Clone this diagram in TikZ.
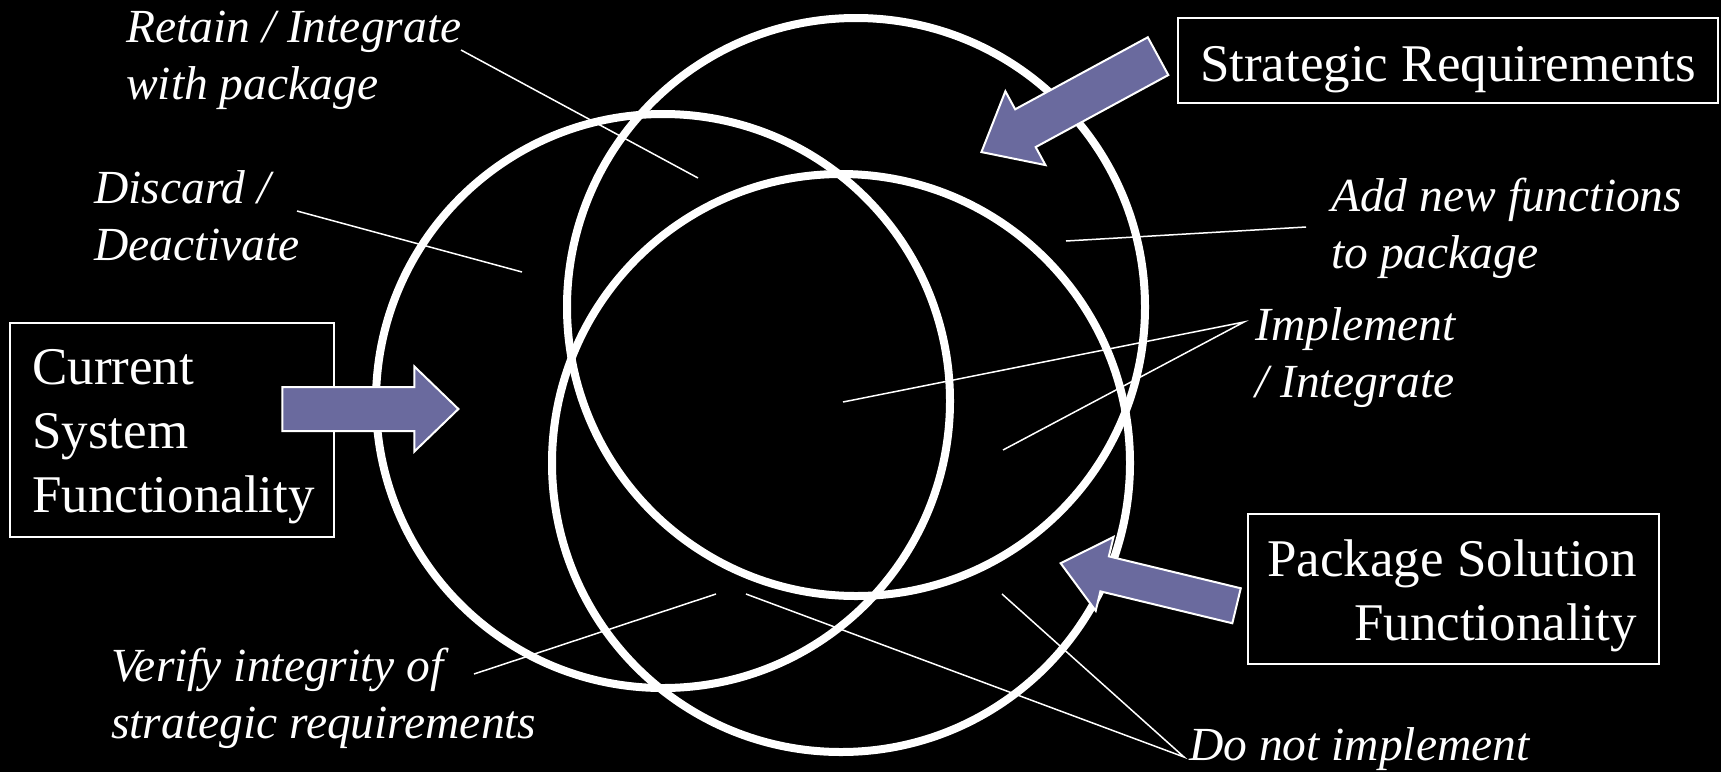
\documentclass[tikz,border=0pt]{standalone}
\usepackage{fontspec}
\setmainfont{Liberation Serif}
\usetikzlibrary{shapes.arrows}
\definecolor{arrowfill}{RGB}{106,106,158}

\begin{document}
\begin{tikzpicture}[x=1pt, y=-1pt,
  ring/.style={circle, draw=white, line width=8pt, inner sep=0pt},
  framebox/.style={draw=white, line width=2pt},
  boxtext/.style={font=\fontsize{53}{64}\selectfont, text=white, inner sep=0pt},
  tag/.style={font=\fontsize{47.5}{57}\selectfont\itshape, text=white, inner sep=0pt, align=left, anchor=base west},
  leader/.style={draw=white, line width=1.5pt},
  fatarrow/.style={single arrow, fill=arrowfill, draw=white, line width=2pt, inner sep=0pt}]
  % Hintergrund
  \fill[black] (0,0) rectangle (1721,772);
  \useasboundingbox (0,0) rectangle (1721,772);

  % drei Kreise
  \node[ring, minimum size=574pt] (cur)   at (663,401) {};
  \node[ring, minimum size=578pt] (strat) at (856,307) {};
  \node[ring, minimum size=578pt] (pkg)   at (841,463) {};

  % Beschriftungen (Anker = Grundlinie der letzten Zeile)
  \node[tag] (retain)  at (126,99)  {Retain / Integrate\\with package};
  \node[tag] (discard) at (94,260)  {Discard /\\Deactivate};
  \node[tag] (addnew)  at (1331,268) {Add new functions\\to package};
  \node[tag] (impl)    at (1255,397) {Implement\\/ Integrate};
  \node[tag] (verify)  at (111,738) {Verify integrity of\\strategic requirements};
  \node[tag] (donot)   at (1189,760) {Do not implement};

  % Endpunkte der Hinweislinien
  \coordinate (retainA) at (461,50);   \coordinate (retainB) at (698,178);
  \coordinate (discardA) at (297,211); \coordinate (discardB) at (522,272);
  \coordinate (addnewA) at (1306,227); \coordinate (addnewB) at (1066,241);
  \coordinate (implA) at (1244,322);
  \coordinate (implB) at (843,402);    \coordinate (implC) at (1003,450);
  \coordinate (verifyA) at (474,674);  \coordinate (verifyB) at (716,594);
  \coordinate (donotA) at (1184,757);
  \coordinate (donotB) at (746,594);   \coordinate (donotC) at (1002,594);

  \draw[leader] (retainA) -- (retainB);
  \draw[leader] (discardA) -- (discardB);
  \draw[leader] (addnewA) -- (addnewB);
  \draw[leader] (implB) -- (implA) -- (implC);
  \draw[leader] (verifyA) -- (verifyB);
  \draw[leader] (donotB) -- (donotA) -- (donotC);

  % Kaesten
  \draw[framebox] (1178,18) rectangle (1718,103);
  \node[boxtext, anchor=base] (stratlbl) at (1448,81) {Strategic Requirements};

  \draw[framebox] (10,323) rectangle (334,537);
  \node[boxtext, anchor=base west, align=left] (curlbl) at (32,512) {Current\\System\\Functionality};

  \draw[framebox] (1248,514) rectangle (1659,664);
  \node[boxtext, anchor=base east, align=right] (pkglbl) at (1637,640) {Package Solution\\Functionality};

  % Blockpfeile
  \node[fatarrow, minimum height=176pt, minimum width=83pt, inner ysep=21pt,
        single arrow head extend=20.5pt, single arrow tip angle=88] (curarrow) at (359,409) {};
  \node[fatarrow, minimum height=201pt, minimum width=82pt, inner ysep=20.5pt,
        single arrow head extend=20.5pt, single arrow tip angle=80, rotate=208.5] (stratarrow) at (1081,98) {};
  \node[fatarrow, minimum height=181pt, minimum width=74pt, inner ysep=17pt,
        single arrow head extend=20pt, single arrow tip angle=80, rotate=166.4] (pkgarrow) at (1159,587) {};
\end{tikzpicture}
\end{document}
